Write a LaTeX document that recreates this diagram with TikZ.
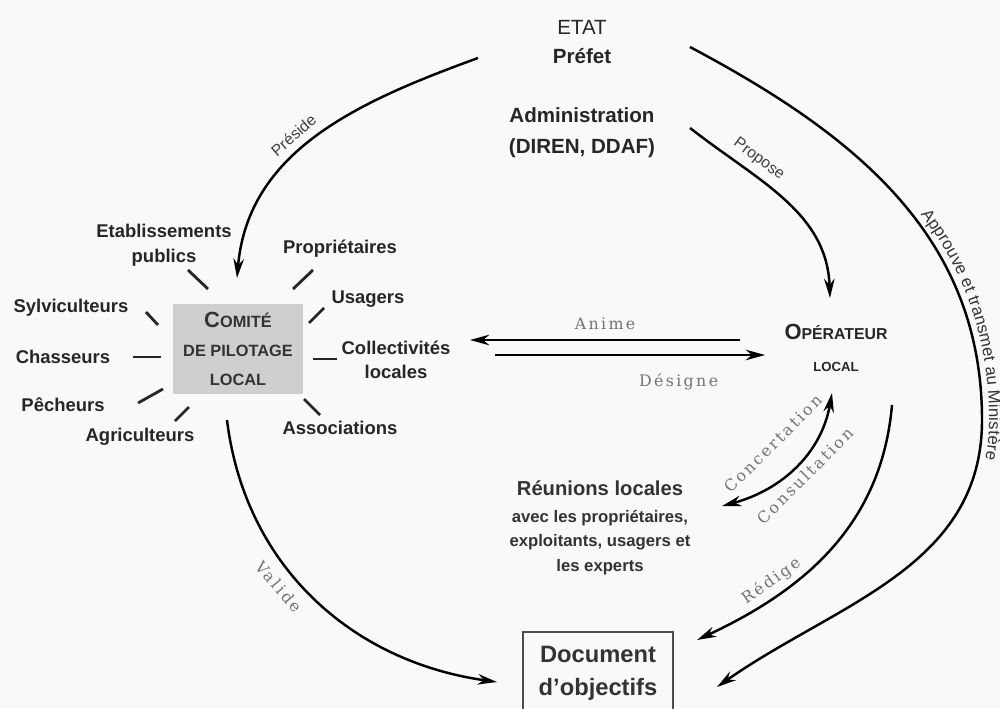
\documentclass[tikz,border=0pt]{standalone}
\usepackage{fontspec}
\setmainfont{Liberation Sans}
\newfontfamily\spacedfont[LetterSpace=15]{DejaVu Serif}
\usetikzlibrary{arrows.meta,decorations.text}

\tikzset{
  actor/.style={font=\bfseries\fontsize{10.5}{14}\selectfont, align=center, text=black!85},
  flow/.style={line width=1.4pt, -{Stealth[length=11pt,width=6pt]}},
  verb/.style={font=\fontsize{9}{10}\selectfont, text=black!75, inner sep=2pt},
  spaced/.style={font=\spacedfont\fontsize{9}{10}\selectfont, text=black!55, inner sep=2pt},
  tick/.style={line width=1.6pt, black!85}
}

\begin{document}
\begin{tikzpicture}[x=0.02cm, y=0.02cm]
  \fill[gray!5] (0,0) rectangle (1000,708);
  \useasboundingbox (0,0) rectangle (1000,708);

  % Etat et administration
  \node[font=\fontsize{11.7}{17}\selectfont, align=center, text=black!85] (etat) at (582,666) {ETAT\\\textbf{Préfet}};
  \node[font=\bfseries\fontsize{11.7}{17.5}\selectfont, align=center, text=black!85] (admin) at (582,575) {Administration\\(DIREN, DDAF)};

  % comite de pilotage et ses membres
  \node[fill=gray!38, minimum width=2.6cm, minimum height=1.8cm, align=center,
        font=\bfseries\fontsize{9.3}{16.5}\selectfont, text=black!80] (comite) at (238,359)
        {{\fontsize{12.5}{16.5}\selectfont C}OMITÉ\\DE PILOTAGE\\LOCAL};
  \node[actor] (etab) at (164,463) {Etablissements\\publics};
  \node[actor] (proprio) at (340,459) {Propriétaires};
  \node[actor] (usagers) at (368,409) {Usagers};
  \node[actor] (collect) at (396,348) {Collectivités\\locales};
  \node[actor] (assoc) at (340,280) {Associations};
  \node[actor] (agri) at (140,271) {Agriculteurs};
  \node[actor] (pecheurs) at (63,303) {Pêcheurs};
  \node[actor] (chasseurs) at (63,351) {Chasseurs};
  \node[actor] (sylvi) at (71,400) {Sylviculteurs};
  \foreach \xa/\ya/\xb/\yb in {188/438/208/419, 313/438/293/419, 324/400/309/385,
      313/349/337/349, 304/309/320/293, 189/301/175/287, 163/319/138/305,
      133/351/161/351, 146/396/158/383}
    \draw[tick] (\xa,\ya) -- (\xb,\yb);

  % operateur
  \node[font=\bfseries\fontsize{9}{18}\selectfont, align=center, text=black!85] (opera) at (836,360)
        {{\fontsize{12.5}{18}\selectfont O}PÉRATEUR\\{\fontsize{7.5}{18}\selectfont LOCAL}};

  \node[font=\bfseries\fontsize{9.5}{14}\selectfont, align=center, text=black!80] (reunion) at (600,180)
        {{\fontsize{11.5}{14}\selectfont Réunions locales}\\[1pt]avec les propriétaires,\\exploitants, usagers et\\les experts};

  \node[draw=black!70, line width=0.6pt, minimum width=3cm, minimum height=1.66cm, align=center,
        font=\bfseries\fontsize{13.5}{18.8}\selectfont, text=black!80] (doc) at (598,34.5)
        {Document\\d'objectifs};

  % bouts des fleches
  \coordinate (presideA) at (478,650);
  \coordinate (presideB) at (237,430);
  \coordinate (proposeA) at (690,580);
  \coordinate (proposeB) at (830,410);
  \coordinate (approA) at (690,661);
  \coordinate (approM) at (982,288);
  \coordinate (approB) at (717,21);
  \coordinate (animeA) at (740,368);
  \coordinate (animeB) at (470,368);
  \coordinate (designeA) at (495,353);
  \coordinate (designeB) at (765,353);
  \coordinate (concertA) at (722,202);
  \coordinate (concertB) at (832,315);
  \coordinate (redigeA) at (892,303);
  \coordinate (redigeB) at (697,68);
  \coordinate (valideA) at (227,288);
  \coordinate (valideB) at (497,26);

  \draw[flow] (presideA) to[out=200,in=85] node[verb, sloped, above=3pt, pos=0.55] {Préside} (presideB);
  \draw[flow] (proposeA) to[out=-38,in=92] node[verb, sloped, above=2pt, pos=0.3] {Propose} (proposeB);
  \draw[flow] (approA) to[out=-28,in=90] (approM) to[out=-90,in=35] (approB);
  \path[decorate, decoration={text along path, raise=4pt, text align={left indent=5.7cm},
        text color=black!80, text={|\fontsize{9.5}{10}\selectfont|Approuve et transmet au Ministère}}]
        (approA) to[out=-28,in=90] (approM) to[out=-90,in=35] (approB);

  \draw[flow] (animeA) -- node[spaced, above=3pt] {Anime} (animeB);
  \draw[flow] (designeA) -- node[spaced, below=8pt, pos=0.68] {Désigne} (designeB);

  \draw[line width=1.4pt, {Stealth[length=11pt,width=6pt]}-{Stealth[length=11pt,width=6pt]}]
        (concertA) to[out=15,in=-100]
        node[spaced, sloped, above=12pt, pos=0.5] {Concertation}
        node[spaced, sloped, below=1.5pt, pos=0.5] {Consultation} (concertB);
  \draw[flow] (redigeA) to[out=-95,in=25] node[spaced, sloped, above=1pt, pos=0.72] {Rédige} (redigeB);
  \draw[flow] (valideA) to[out=-83,in=172] node[spaced, sloped, below=4pt, pos=0.42] {Valide} (valideB);
\end{tikzpicture}
\end{document}
